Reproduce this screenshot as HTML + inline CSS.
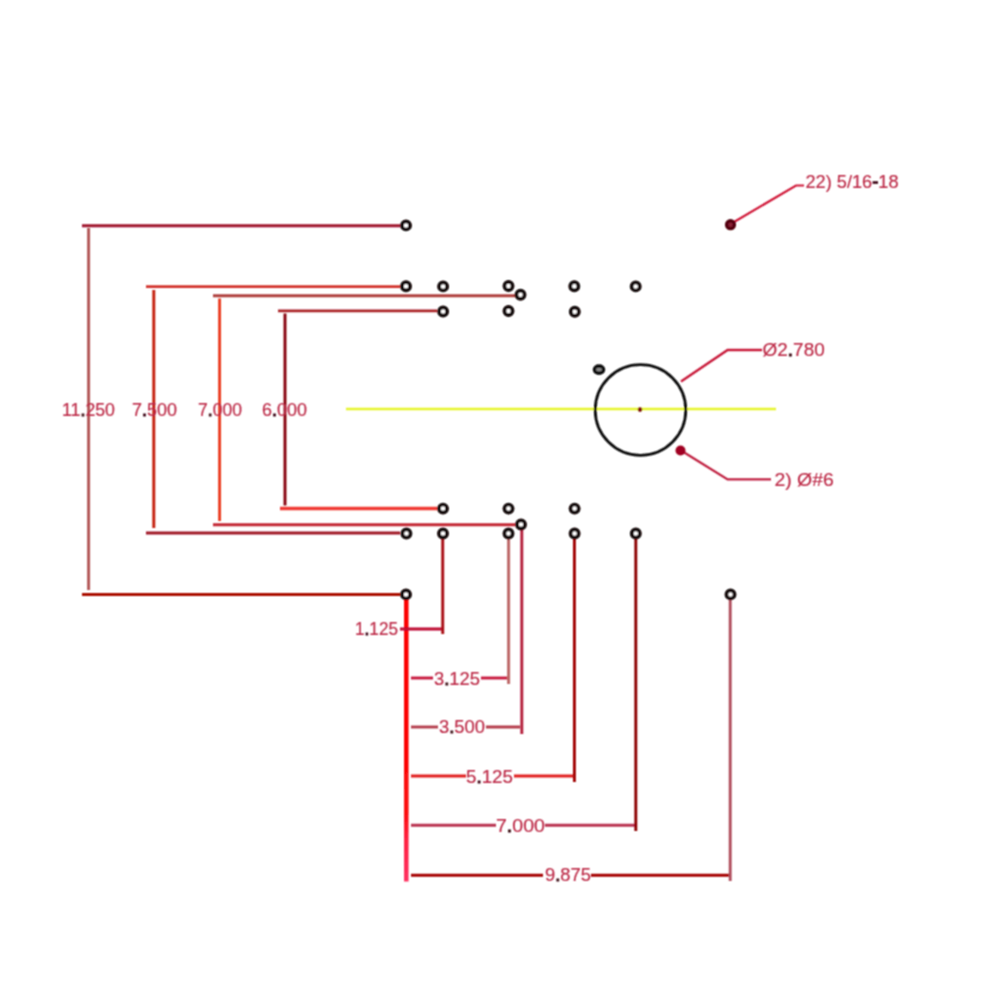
<!DOCTYPE html>
<html><head><meta charset="utf-8"><style>
html,body{margin:0;padding:0;background:#fff;}
svg{display:block;font-family:"Liberation Sans", sans-serif;}
</style></head><body>
<svg width="1000" height="1000" viewBox="0 0 1000 1000">
<defs><linearGradient id="tg" x1="0" y1="597" x2="0" y2="881.5" gradientUnits="userSpaceOnUse"><stop offset="0" stop-color="#fc0000"/><stop offset="0.75" stop-color="#fc0808"/><stop offset="0.85" stop-color="#ff2040"/><stop offset="1" stop-color="#ff3060"/></linearGradient><filter id="b" x="0" y="0" width="1000" height="1000" filterUnits="userSpaceOnUse"><feConvolveMatrix order="3" kernelMatrix="1 2 1 2 4 2 1 2 1" divisor="16" edgeMode="none"/></filter></defs>
<rect width="1000" height="1000" fill="#fff"/>
<g filter="url(#b)">
<line x1="82" y1="225.8" x2="400" y2="225.8" stroke="#a0142d" stroke-width="2.9"/>
<line x1="88.6" y1="228" x2="88.6" y2="590" stroke="#b45a5a" stroke-width="3"/>
<line x1="82" y1="594.5" x2="400" y2="594.5" stroke="#aa0a00" stroke-width="2.9"/>
<line x1="146" y1="286.6" x2="400" y2="286.6" stroke="#d2322d" stroke-width="2.9"/>
<line x1="153.8" y1="290" x2="153.8" y2="528" stroke="#c41a08" stroke-width="2.9"/>
<line x1="146" y1="533" x2="400" y2="533" stroke="#a01928" stroke-width="2.9"/>
<line x1="213" y1="295.7" x2="515" y2="295.7" stroke="#af413c" stroke-width="2.9"/>
<line x1="219.6" y1="298.5" x2="219.6" y2="521" stroke="#eb3c23" stroke-width="2.9"/>
<line x1="213" y1="524.8" x2="515" y2="524.8" stroke="#c32832" stroke-width="2.9"/>
<line x1="278" y1="310.9" x2="437" y2="310.9" stroke="#aa2328" stroke-width="2.9"/>
<line x1="285" y1="313.5" x2="285" y2="505.5" stroke="#87000a" stroke-width="2.9"/>
<line x1="280" y1="508.5" x2="437" y2="508.5" stroke="#f03a34" stroke-width="3.3"/>
<rect x="404.05" y="597" width="4.5" height="284.5" fill="url(#tg)"/>
<line x1="400" y1="629" x2="443" y2="629" stroke="#be0a32" stroke-width="2.9"/>
<line x1="442.7" y1="536" x2="442.7" y2="634" stroke="#aa0a14" stroke-width="2.9"/>
<line x1="411" y1="678" x2="433" y2="678" stroke="#c8143c" stroke-width="2.9"/>
<line x1="481" y1="678" x2="508" y2="678" stroke="#c8143c" stroke-width="2.9"/>
<line x1="508.6" y1="536" x2="508.6" y2="684" stroke="#be6969" stroke-width="3"/>
<line x1="411" y1="727" x2="438" y2="727" stroke="#b43c4b" stroke-width="2.9"/>
<line x1="486" y1="727" x2="520" y2="727" stroke="#b43c4b" stroke-width="2.9"/>
<line x1="521.8" y1="528" x2="521.8" y2="734" stroke="#b41e3a" stroke-width="2.9"/>
<line x1="411" y1="776" x2="466" y2="776" stroke="#e11e1e" stroke-width="2.9"/>
<line x1="514" y1="776" x2="573" y2="776" stroke="#e11e1e" stroke-width="2.9"/>
<line x1="574.4" y1="536" x2="574.4" y2="782" stroke="#a00000" stroke-width="2.9"/>
<line x1="411" y1="825.2" x2="496" y2="825.2" stroke="#b93250" stroke-width="2.9"/>
<line x1="545" y1="825.2" x2="635" y2="825.2" stroke="#b93250" stroke-width="2.9"/>
<line x1="635.8" y1="536" x2="635.8" y2="831" stroke="#8c0000" stroke-width="2.9"/>
<line x1="411" y1="875.2" x2="543" y2="875.2" stroke="#a50000" stroke-width="2.9"/>
<line x1="591" y1="875.2" x2="729" y2="875.2" stroke="#a50000" stroke-width="2.9"/>
<line x1="730.2" y1="597" x2="730.2" y2="881" stroke="#af4b5a" stroke-width="2.9"/>
<line x1="346" y1="409" x2="776" y2="409" stroke="#e6f52a" stroke-width="2.7"/>
<circle cx="640.5" cy="410" r="45.3" fill="none" stroke="#111" stroke-width="2.8"/>
<circle cx="640" cy="409.6" r="2.3" fill="#801010"/>
<polyline points="681,381.5 727.6,350 762,350" fill="none" stroke="#c81838" stroke-width="2.4"/>
<polyline points="681,450.5 727.6,479.4 771,479.4" fill="none" stroke="#c02040" stroke-width="2.4"/>
<polyline points="734,222 796,185.5 804,185.5" fill="none" stroke="#d01838" stroke-width="2.2"/>
<circle cx="406" cy="225.4" r="4.1" fill="#fff" stroke="#140808" stroke-width="3.7"/>
<circle cx="406" cy="286.3" r="4.1" fill="#fff" stroke="#140808" stroke-width="3.7"/>
<circle cx="443.1" cy="286.4" r="4.1" fill="#fff" stroke="#140808" stroke-width="3.7"/>
<circle cx="508.5" cy="286" r="4.1" fill="#fff" stroke="#140808" stroke-width="3.7"/>
<circle cx="574.3" cy="286.3" r="4.1" fill="#fff" stroke="#140808" stroke-width="3.7"/>
<circle cx="635.7" cy="286.4" r="4.1" fill="#fff" stroke="#140808" stroke-width="3.7"/>
<circle cx="520.5" cy="294.8" r="4.1" fill="#fff" stroke="#140808" stroke-width="3.7"/>
<circle cx="443.1" cy="311.5" r="4.1" fill="#fff" stroke="#140808" stroke-width="3.7"/>
<circle cx="508.5" cy="311" r="4.1" fill="#fff" stroke="#140808" stroke-width="3.7"/>
<circle cx="574.8" cy="311.7" r="4.1" fill="#fff" stroke="#140808" stroke-width="3.7"/>
<circle cx="443" cy="508.6" r="4.1" fill="#fff" stroke="#140808" stroke-width="3.7"/>
<circle cx="508.5" cy="508.6" r="4.1" fill="#fff" stroke="#140808" stroke-width="3.7"/>
<circle cx="574.6" cy="508.6" r="4.1" fill="#fff" stroke="#140808" stroke-width="3.7"/>
<circle cx="521" cy="524.5" r="4.1" fill="#fff" stroke="#140808" stroke-width="3.7"/>
<circle cx="406.4" cy="533.5" r="4.1" fill="#fff" stroke="#140808" stroke-width="3.7"/>
<circle cx="443" cy="533.5" r="4.1" fill="#fff" stroke="#140808" stroke-width="3.7"/>
<circle cx="508.5" cy="533.5" r="4.1" fill="#fff" stroke="#140808" stroke-width="3.7"/>
<circle cx="574.6" cy="533.5" r="4.1" fill="#fff" stroke="#140808" stroke-width="3.7"/>
<circle cx="635.8" cy="533.5" r="4.1" fill="#fff" stroke="#140808" stroke-width="3.7"/>
<circle cx="406" cy="594.4" r="4.1" fill="#fff" stroke="#140808" stroke-width="3.7"/>
<circle cx="730.5" cy="594.4" r="4.1" fill="#fff" stroke="#140808" stroke-width="3.7"/>
<ellipse cx="599" cy="369.6" rx="4.6" ry="3.6" fill="#8a8a8a" stroke="#0a0a0a" stroke-width="3.4"/>
<circle cx="730.5" cy="224.7" r="3.9" fill="#8a2035" stroke="#520010" stroke-width="3.4"/>
<circle cx="680.5" cy="450.5" r="5" fill="#a00020"/>
<text x="62" y="416.1" textLength="53" lengthAdjust="spacingAndGlyphs" font-size="17.8" fill="#bd2c48" stroke="#bd2c48" stroke-width="0.2">11<tspan fill="#3a0812" stroke="#3a0812" stroke-width="1">.</tspan>250</text>
<text x="132" y="416.1" textLength="45" lengthAdjust="spacingAndGlyphs" font-size="17.8" fill="#bd2c48" stroke="#bd2c48" stroke-width="0.2">7<tspan fill="#3a0812" stroke="#3a0812" stroke-width="1">.</tspan>500</text>
<text x="198" y="416.1" textLength="44" lengthAdjust="spacingAndGlyphs" font-size="17.8" fill="#bd2c48" stroke="#bd2c48" stroke-width="0.2">7<tspan fill="#3a0812" stroke="#3a0812" stroke-width="1">.</tspan>000</text>
<text x="262" y="416.1" textLength="45" lengthAdjust="spacingAndGlyphs" font-size="17.8" fill="#bd2c48" stroke="#bd2c48" stroke-width="0.2">6<tspan fill="#3a0812" stroke="#3a0812" stroke-width="1">.</tspan>000</text>
<text x="355" y="635.4" textLength="43" lengthAdjust="spacingAndGlyphs" font-size="17.8" fill="#bd2c48" stroke="#bd2c48" stroke-width="0.2">1<tspan fill="#3a0812" stroke="#3a0812" stroke-width="1">.</tspan>125</text>
<text x="434" y="684.9" textLength="46" lengthAdjust="spacingAndGlyphs" font-size="17.8" fill="#bd2c48" stroke="#bd2c48" stroke-width="0.2">3<tspan fill="#3a0812" stroke="#3a0812" stroke-width="1">.</tspan>125</text>
<text x="439" y="733.4" textLength="46" lengthAdjust="spacingAndGlyphs" font-size="17.8" fill="#bd2c48" stroke="#bd2c48" stroke-width="0.2">3<tspan fill="#3a0812" stroke="#3a0812" stroke-width="1">.</tspan>500</text>
<text x="466" y="782.9" textLength="47" lengthAdjust="spacingAndGlyphs" font-size="17.8" fill="#bd2c48" stroke="#bd2c48" stroke-width="0.2">5<tspan fill="#3a0812" stroke="#3a0812" stroke-width="1">.</tspan>125</text>
<text x="496" y="831.9" textLength="49" lengthAdjust="spacingAndGlyphs" font-size="17.8" fill="#bd2c48" stroke="#bd2c48" stroke-width="0.2">7<tspan fill="#3a0812" stroke="#3a0812" stroke-width="1">.</tspan>000</text>
<text x="545" y="881.4" textLength="46" lengthAdjust="spacingAndGlyphs" font-size="17.8" fill="#bd2c48" stroke="#bd2c48" stroke-width="0.2">9<tspan fill="#3a0812" stroke="#3a0812" stroke-width="1">.</tspan>875</text>
<text x="762.6" y="355.9" textLength="62.10000000000002" lengthAdjust="spacingAndGlyphs" font-size="17.8" fill="#bd2c48" stroke="#bd2c48" stroke-width="0.2">Ø2<tspan fill="#3a0812" stroke="#3a0812" stroke-width="1">.</tspan>780</text>
<text x="774.4" y="485.8" textLength="59.39999999999998" lengthAdjust="spacingAndGlyphs" font-size="17.8" fill="#bd2c48" stroke="#bd2c48" stroke-width="0.2">2) Ø#6</text>
<text x="805.5" y="187.9" textLength="93.0" lengthAdjust="spacingAndGlyphs" font-size="17.8" fill="#bd2c48" stroke="#bd2c48" stroke-width="0.2">22) 5/16<tspan fill="#3a0812" stroke="#3a0812" stroke-width="1">-</tspan>18</text>
</g>
</svg>
</body></html>
